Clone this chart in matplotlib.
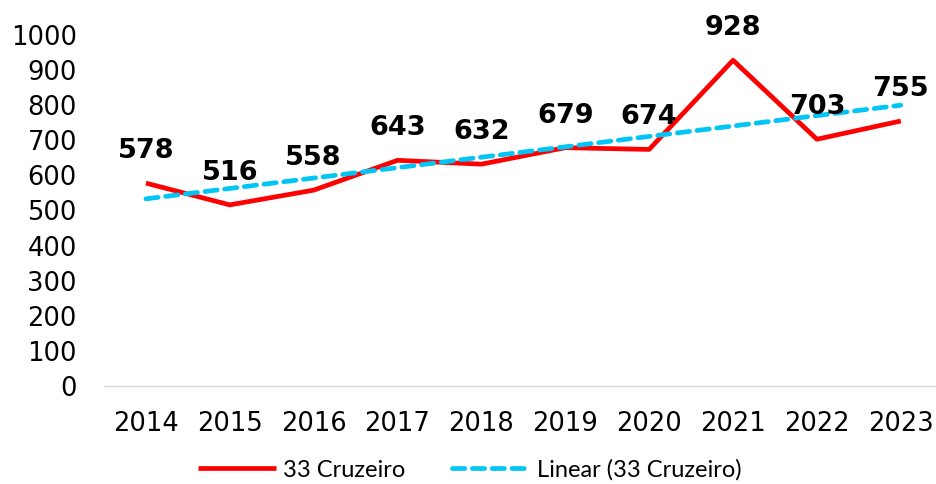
import matplotlib
matplotlib.use("Agg")
import matplotlib.pyplot as plt
import numpy as np

years = ["2014", "2015", "2016", "2017", "2018", "2019", "2020", "2021", "2022", "2023"]
values = [578, 516, 558, 643, 632, 679, 674, 928, 703, 755]
yticks = [0, 100, 200, 300, 400, 500, 600, 700, 800, 900, 1000]

fig = plt.figure(figsize=(9.36, 4.84), dpi=100)
W, H = 936, 484
ax = fig.add_axes([104 / W, 1 - 386 / H, (936 - 104) / W, (386 - 35) / H])

x = np.arange(len(years))
ax.plot(x, values, color="#FF0000", lw=3.4, solid_capstyle="butt", label="33 Cruzeiro", zorder=3)
coef = np.polyfit(x, values, 1)
trend = np.polyval(coef, x)
ax.plot(x, trend, color="#00C5F5", lw=3.4, dashes=(2.6, 1.6), dash_capstyle="round",
        label="Linear (33 Cruzeiro)", zorder=4)

for xi, v in zip(x, values):
    ax.annotate(str(v), (xi, v), xytext=(0, 25), textcoords="offset pixels",
                ha="center", va="baseline", fontsize=19.5, fontweight="bold",
                family="DejaVu Sans", color="black", zorder=5)

ax.set_xlim(-0.5, 9.42)
ax.set_ylim(0, 1000)
ax.set_xticks(x)
ax.set_xticklabels(years, fontsize=18.5)
ax.set_yticks(yticks)
ax.set_yticklabels([str(t) for t in yticks], fontsize=18.5)
ax.tick_params(length=0)
ax.tick_params(axis="x", pad=18)
ax.tick_params(axis="y", pad=19.5)
for s in ["top", "right", "left"]:
    ax.spines[s].set_visible(False)
ax.spines["bottom"].set_color("#D9D9D9")
ax.spines["bottom"].set_linewidth(1.0)

leg = fig.legend(loc="center", bbox_to_anchor=(470 / W, 1 - 470 / H), ncol=2, frameon=False,
                 prop={"family": "Lato", "size": 17}, handlelength=3.3, columnspacing=2.0,
                 handletextpad=0.3)
plt.savefig("out.png", dpi=100)
